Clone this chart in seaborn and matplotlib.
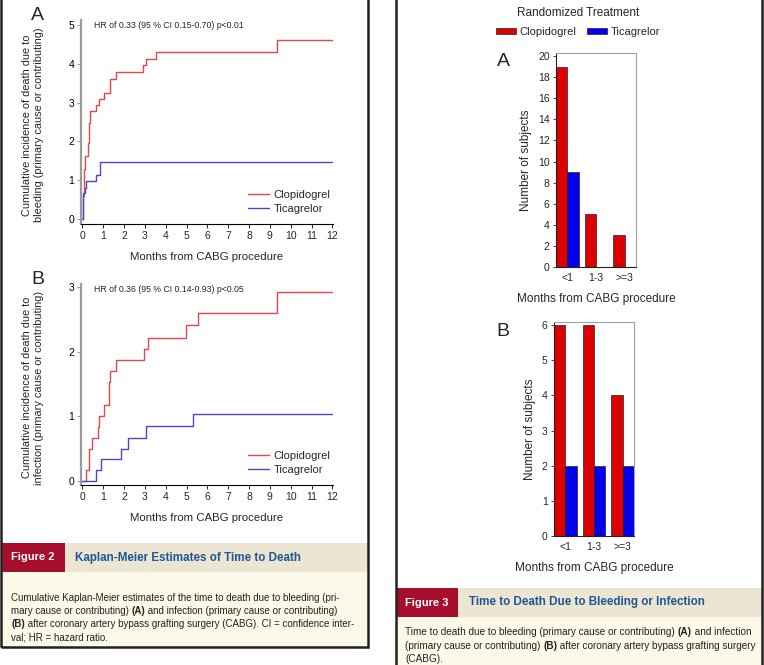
import matplotlib
matplotlib.use("Agg")
import matplotlib.pyplot as plt
import seaborn as sns
import pandas as pd
from matplotlib.patches import Rectangle, Patch

# ---------------- data ----------------
treatments = ["Clopidogrel", "Ticagrelor"]

# Figure 2A: cumulative incidence of death due to bleeding (%)
a_clop_t = [0, 0.04, 0.07, 0.10, 0.27, 0.32, 0.38, 0.66, 0.79, 1.03, 1.31, 1.63, 2.92, 3.03, 3.54, 9.33, 12]
a_clop_v = [0, 0.60, 1.30, 1.62, 1.95, 2.47, 2.78, 2.94, 3.10, 3.26, 3.60, 3.78, 3.97, 4.12, 4.30, 4.61, 4.61]
a_tica_t = [0, 0.04, 0.11, 0.19, 0.63, 0.83, 12]
a_tica_v = [0, 0.66, 0.80, 0.98, 1.13, 1.46, 1.46]

# Figure 2B: cumulative incidence of death due to infection (%)
b_clop_t = [0, 0.16, 0.32, 0.48, 0.75, 0.80, 1.03, 1.28, 1.31, 1.63, 2.96, 3.16, 4.97, 5.53, 9.33, 12]
b_clop_v = [0, 0.17, 0.50, 0.66, 0.84, 1.00, 1.18, 1.54, 1.70, 1.87, 2.05, 2.22, 2.41, 2.60, 2.92, 2.92]
b_tica_t = [0, 0.64, 0.91, 1.87, 2.20, 3.03, 5.29, 12]
b_tica_v = [0, 0.17, 0.34, 0.50, 0.67, 0.85, 1.04, 1.04]

# Figure 3: number of subjects by period
periods = ["<1", "1-3", ">=3"]
bar_a_clop = [19, 5, 3]
bar_a_tica = [9, 0, 0]
bar_b_clop = [6, 6, 4]
bar_b_tica = [2, 2, 2]

km_xticks = list(range(0, 13))
km_a_yticks = [0, 1, 2, 3, 4, 5]
km_b_yticks = [0, 1, 2, 3]
bar_a_yticks = list(range(0, 21, 2))
bar_b_yticks = list(range(0, 7))

hr_a = "HR of 0.33 (95 % CI 0.15-0.70) p<0.01"
hr_b = "HR of 0.36 (95 % CI 0.14-0.93) p<0.05"

# ---------------- style ----------------
sns.set_theme(style="white")
plt.rcParams["font.family"] = ["Liberation Sans", "DejaVu Sans"]
cap_font = ["Liberation Sans", "DejaVu Sans"]

W, H = 764, 665
fig = plt.figure(figsize=(W / 100, H / 100), dpi=100)
fig.patch.set_facecolor("white")


def box(x0, y0, x1, y1):
    return [x0 / W, 1 - y1 / H, (x1 - x0) / W, (y1 - y0) / H]


line_pal = {"Clopidogrel": "#e8454a", "Ticagrelor": "#4848cc"}
bar_pal = {"Clopidogrel": "#dd0000", "Ticagrelor": "#0000ee"}


def km_frame(ct, cv, tt, tv):
    return pd.concat([
        pd.DataFrame({"time": ct, "inc": cv, "treatment": treatments[0]}),
        pd.DataFrame({"time": tt, "inc": tv, "treatment": treatments[1]}),
    ], ignore_index=True)


def km_panel(rect, df, ylim, yticks, ylabel, letter, letter_y, hr):
    ax = fig.add_axes(rect)
    sns.lineplot(data=df, x="time", y="inc", hue="treatment", hue_order=treatments,
                 palette=line_pal, drawstyle="steps-post", estimator=None,
                 linewidth=1.0, ax=ax)
    ax.set_xlim(-0.07, 12.03)
    ax.set_ylim(*ylim)
    ax.set_xticks(km_xticks)
    ax.set_yticks(yticks)
    ax.tick_params(axis="both", labelsize=7.5, length=3, width=0.7, pad=2,
                   bottom=True, left=True)
    ax.tick_params(axis="y", colors="#9a9a9a", labelcolor="black")
    sns.despine(ax=ax)
    ax.spines["left"].set_color("#9a9a9a")
    ax.spines["left"].set_linewidth(1.6)
    ax.spines["bottom"].set_color("black")
    ax.spines["bottom"].set_linewidth(0.8)
    ax.set_xlabel("Months from CABG procedure", fontsize=8.2, labelpad=8)
    ax.set_ylabel(ylabel, fontsize=7.9, linespacing=1.25)
    ax.yaxis.set_label_coords(-0.145, 0.485)
    h, l = ax.get_legend_handles_labels()
    ax.legend(h, l, loc="lower right", frameon=False, fontsize=8,
              handlelength=1.9, handletextpad=0.4, labelspacing=0.35,
              bbox_to_anchor=(1.03, 0.0))
    ax.text(0.05, 0.995, hr, transform=ax.transAxes, fontsize=6.3, va="top", ha="left")
    fig.text(31 / W, 1 - letter_y / H, letter, fontsize=14, va="center", ha="left")
    return ax


km_panel(box(81, 20, 333, 224), km_frame(a_clop_t, a_clop_v, a_tica_t, a_tica_v),
         (-0.13, 5.13), km_a_yticks,
         "Cumulative incidence of death due to\nbleeding (primary cause or contributing)",
         "A", 16, hr_a)
km_panel(box(81, 284, 333, 485), km_frame(b_clop_t, b_clop_v, b_tica_t, b_tica_v),
         (-0.06, 3.05), km_b_yticks,
         "Cumulative incidence of death due to\ninfection (primary cause or contributing)",
         "B", 280, hr_b)


def bar_frame(c, t):
    return pd.DataFrame({
        "period": periods * 2,
        "count": list(c) + list(t),
        "treatment": [treatments[0]] * 3 + [treatments[1]] * 3,
    })


def bar_panel(rect, df, ylim, yticks):
    ax = fig.add_axes(rect)
    sns.barplot(data=df, x="period", y="count", hue="treatment", hue_order=treatments,
                order=periods, palette=bar_pal, saturation=1, width=0.8,
                edgecolor="#222222", linewidth=0.5, ax=ax, legend=False)
    ax.set_xlim(-0.4, 2.4)
    ax.set_ylim(*ylim)
    ax.set_yticks(yticks)
    ax.tick_params(axis="both", labelsize=7.5, length=2.5, width=0.6, pad=2,
                   left=True, bottom=False)
    for s in ["top", "right"]:
        ax.spines[s].set_color("#a0a0a0")
        ax.spines[s].set_linewidth(0.8)
    for s in ["left", "bottom"]:
        ax.spines[s].set_color("#222222")
        ax.spines[s].set_linewidth(0.8)
    ax.set_xlabel("Months from CABG procedure", fontsize=8.5, labelpad=7)
    ax.set_ylabel("Number of subjects", fontsize=8.5, labelpad=4)
    return ax


bar_panel(box(556, 53, 636, 267), bar_frame(bar_a_clop, bar_a_tica), (0, 20.3), bar_a_yticks)
bar_panel(box(554, 322, 634, 536), bar_frame(bar_b_clop, bar_b_tica), (0, 6.09), bar_b_yticks)
fig.text(497 / W, 1 - 61 / H, "A", fontsize=14, va="center", ha="left")
fig.text(496 / W, 1 - 331 / H, "B", fontsize=14, va="center", ha="left")

handles = [Patch(facecolor=bar_pal[t], edgecolor="#222222", linewidth=0.5) for t in treatments]
leg = fig.legend(handles, treatments, loc="center", ncol=2, frameon=False, fontsize=8,
                 title="Randomized Treatment", title_fontsize=8.5,
                 bbox_to_anchor=(578 / W, 1 - 22 / H), handlelength=1.8, handleheight=0.5,
                 handletextpad=0.3, columnspacing=1.0, borderaxespad=0, borderpad=0,
                 labelspacing=0.2)
leg._legend_box.sep = 6

# ---------------- caption blocks ----------------
MAROON = "#a50f2d"
BAND = "#ebe5d1"
CAPBG = "#fcf9e8"
TITLE_BLUE = "#1f5796"


def rect_px(x0, y0, x1, y1, **kw):
    fig.patches.append(Rectangle((x0 / W, 1 - y1 / H), (x1 - x0) / W, (y1 - y0) / H,
                                 transform=fig.transFigure, **kw))


def rich_line(x, y, pieces, size=7.0, color="#222222"):
    renderer = fig.canvas.get_renderer()
    cur = x / W
    for txt, wt in pieces:
        t = fig.text(cur, 1 - y / H, txt, fontsize=size, fontweight=wt, color=color,
                     va="center", ha="left", family=cap_font)
        bb = t.get_window_extent(renderer=renderer)
        cur += bb.width / W


# left block
rect_px(1, 543, 368, 572, facecolor=BAND, edgecolor="none")
rect_px(1, 572, 368, 647, facecolor=CAPBG, edgecolor="none")
rect_px(1, 543, 65, 572, facecolor=MAROON, edgecolor="none")
fig.text(11 / W, 1 - 557.5 / H, "Figure 2", fontsize=8, fontweight="bold", color="white",
         va="center", ha="left")
fig.text(75 / W, 1 - 557.5 / H, "Kaplan-Meier Estimates of Time to Death", fontsize=8.4,
         fontweight="bold", color=TITLE_BLUE, va="center", ha="left")
rich_line(11, 598, [("Cumulative Kaplan-Meier estimates of the time to death due to bleeding (pri-", "normal")])
rich_line(11, 611, [("mary cause or contributing) ", "normal"), ("(A)", "bold"),
                    (" and infection (primary cause or contributing)", "normal")])
rich_line(11, 624, [("(B)", "bold"),
                    (" after coronary artery bypass grafting surgery (CABG). CI = confidence inter-", "normal")])
rich_line(11, 637, [("val; HR = hazard ratio.", "normal")])
rect_px(1, -5, 368, 647, facecolor="none", edgecolor="#222222", linewidth=1.8)

# right block
rect_px(397, 588, 762, 617, facecolor=BAND, edgecolor="none")
rect_px(397, 617, 762, 670, facecolor=CAPBG, edgecolor="none")
rect_px(397, 588, 458, 617, facecolor=MAROON, edgecolor="none")
fig.text(405 / W, 1 - 602.5 / H, "Figure 3", fontsize=8, fontweight="bold", color="white",
         va="center", ha="left")
fig.text(469 / W, 1 - 602.5 / H, "Time to Death Due to Bleeding or Infection", fontsize=8.4,
         fontweight="bold", color=TITLE_BLUE, va="center", ha="left")
rich_line(405, 632, [("Time to death due to bleeding (primary cause or contributing) ", "normal"),
                     ("(A)", "bold"), (" and infection", "normal")], size=7.2)
rich_line(405, 646, [("(primary cause or contributing) ", "normal"), ("(B)", "bold"),
                     (" after coronary artery bypass grafting surgery", "normal")], size=7.2)
rich_line(405, 659, [("(CABG).", "normal")], size=7.2)
rect_px(396, -5, 762, 670, facecolor="none", edgecolor="#222222", linewidth=1.8)

fig.savefig("out.png", dpi=100)
